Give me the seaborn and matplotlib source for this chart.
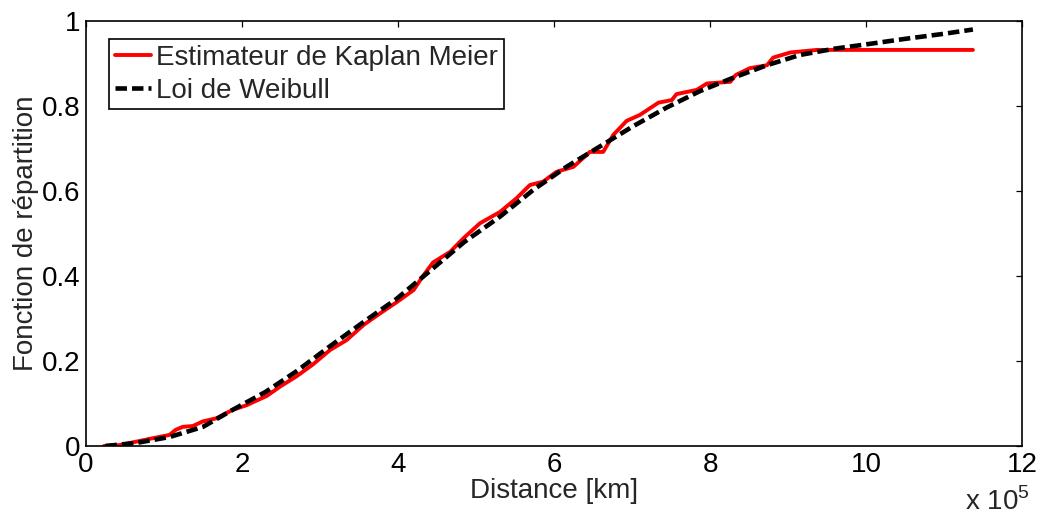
import numpy as np
import pandas as pd
import matplotlib
matplotlib.use('Agg')
import matplotlib.pyplot as plt
import seaborn as sns

# Kaplan-Meier estimate (distance in 1e5 km, cumulative probability)
km_x = [0.23, 0.43, 0.64, 0.85, 1.07, 1.15, 1.24, 1.37, 1.50, 1.67, 1.88, 2.06,
        2.32, 2.49, 2.70, 2.91, 3.13, 3.34, 3.56, 3.77, 3.98, 4.20, 4.32, 4.45,
        4.67, 4.84, 5.05, 5.31, 5.52, 5.69, 5.86, 6.03, 6.25, 6.46, 6.63, 6.76,
        6.93, 7.10, 7.34, 7.51, 7.57, 7.83, 7.96, 8.26, 8.33, 8.51, 8.73, 8.81,
        9.03, 9.37, 11.37]
km_y = [0.000, 0.002, 0.010, 0.018, 0.026, 0.038, 0.045, 0.047, 0.058, 0.065,
        0.085, 0.096, 0.118, 0.140, 0.164, 0.192, 0.226, 0.249, 0.285, 0.312,
        0.338, 0.367, 0.400, 0.432, 0.457, 0.489, 0.524, 0.551, 0.583, 0.614,
        0.622, 0.645, 0.657, 0.692, 0.692, 0.732, 0.765, 0.779, 0.808, 0.814,
        0.828, 0.838, 0.853, 0.857, 0.873, 0.889, 0.896, 0.914, 0.926, 0.932,
        0.932]

# fitted Weibull CDF
wb_x = [0.25, 0.64, 1.07, 1.50, 1.88, 2.30, 2.70, 3.13, 3.56, 3.98, 4.41, 4.85,
        5.31, 5.73, 6.16, 6.59, 7.01, 7.45, 7.87, 8.29, 8.73, 9.15, 9.60, 10.0,
        10.5, 11.0, 11.37]
wb_y = [0.000, 0.007, 0.021, 0.045, 0.085, 0.127, 0.176, 0.235, 0.292, 0.346,
        0.412, 0.480, 0.540, 0.602, 0.657, 0.705, 0.752, 0.797, 0.835, 0.866,
        0.896, 0.920, 0.935, 0.945, 0.958, 0.970, 0.980]

x_ticks = [0, 2, 4, 6, 8, 10, 12]
y_ticks = [0, 0.2, 0.4, 0.6, 0.8, 1]
y_tick_labels = ['0', '0.2', '0.4', '0.6', '0.8', '1']

sns.set_style('white')
plt.rcParams['font.family'] = ['Liberation Sans', 'DejaVu Sans']
plt.rcParams['font.size'] = 20
plt.rcParams['mathtext.fontset'] = 'custom'
plt.rcParams['mathtext.rm'] = 'Liberation Sans'

fig = plt.figure(figsize=(10.41, 5.19), dpi=100)
ax = fig.add_axes([0.0826, 0.1407, 0.8992, 0.8188])

km = pd.DataFrame({'x': km_x, 'y': km_y})
wb = pd.DataFrame({'x': wb_x, 'y': wb_y})

sns.lineplot(data=km, x='x', y='y', ax=ax, color='#ff0000', linewidth=2.8,
             sort=False, estimator=None, label='Estimateur de Kaplan Meier')
sns.lineplot(data=wb, x='x', y='y', ax=ax, color='black', linewidth=3.3,
             sort=False, estimator=None, label='Loi de Weibull')
ax.lines[1].set_dashes((2.5, 1.1))

ax.set_xlim(0, 12)
ax.set_ylim(0, 1)
ax.set_xticks(x_ticks)
ax.set_xticklabels([str(t) for t in x_ticks])
ax.set_yticks(y_ticks)
ax.set_yticklabels(y_tick_labels)
ax.tick_params(direction='in', length=4.5, width=0.9, top=True, right=True,
               labelsize=20, pad=4, colors='black')

for sp in ax.spines.values():
    sp.set_visible(True)
    sp.set_color('black')
    sp.set_linewidth(1.2)

ax.set_xlabel('Distance [km]', fontsize=20, labelpad=0)
ax.set_ylabel('Fonction de répartition', fontsize=20, labelpad=2)

leg = ax.legend(loc='upper left', bbox_to_anchor=(0.0246, 0.9576),
                borderaxespad=0, frameon=True, fancybox=False, fontsize=20,
                handlelength=1.3, handletextpad=0.2, labelspacing=0.25,
                borderpad=0.2)
leg.get_frame().set_edgecolor('black')
leg.get_frame().set_linewidth(1.2)
leg.get_frame().set_alpha(1)

fig.text(0.989, 0.006, r'x 10$^{5}$', ha='right', va='bottom', fontsize=20)

fig.savefig('out.png', dpi=100)
